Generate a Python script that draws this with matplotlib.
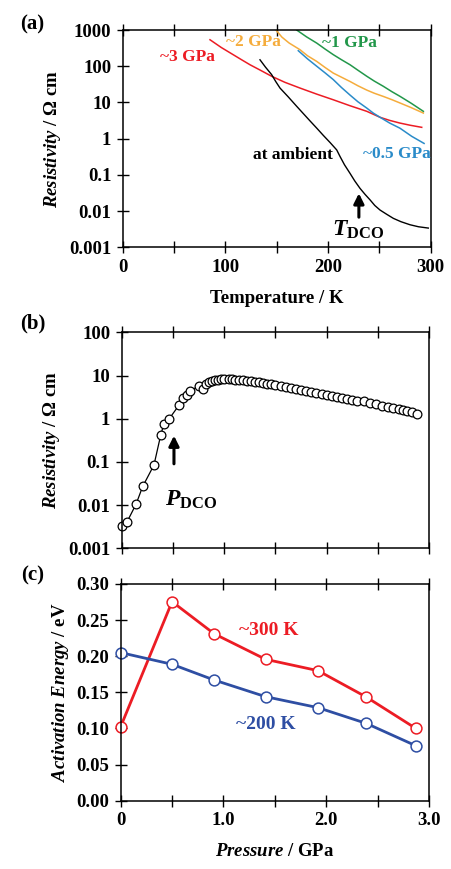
import matplotlib
matplotlib.use("Agg")
import matplotlib.pyplot as plt
from matplotlib.ticker import FixedLocator, FixedFormatter, NullFormatter, MultipleLocator

plt.rcParams['font.family'] = ['Liberation Serif', 'DejaVu Serif']
plt.rcParams['font.weight'] = 'bold'
plt.rcParams['axes.labelweight'] = 'bold'
plt.rcParams['mathtext.fontset'] = 'custom'
plt.rcParams['mathtext.rm'] = 'Liberation Serif:bold'
plt.rcParams['mathtext.it'] = 'Liberation Serif:italic:bold'
plt.rcParams['mathtext.bf'] = 'Liberation Serif:bold'

# ---------------- data: panel (a) ----------------
T_3gpa = [85, 96, 107.7, 116, 124, 134, 145, 158, 172.7, 189, 205, 221, 237.7, 250.6, 260, 270, 280, 291.2]
rho_3gpa = [540, 330, 208, 150, 110, 78, 53, 36, 25, 17, 11.9, 8.2, 5.7, 3.9, 3.2, 2.7, 2.35, 2.06]

T_2gpa = [149.3, 155, 162, 172.7, 180, 189, 197, 205, 213, 221.4, 229, 237.7, 245, 253.8, 262, 270, 281, 292.8]
rho_2gpa = [1000, 640, 440, 286, 195, 136, 93, 65, 50, 38, 29, 22, 18, 14.7, 12, 9.7, 7.2, 5.1]

T_1gpa = [169.5, 179, 189, 197, 205, 213, 221.4, 229, 237.7, 245, 253.8, 262, 270, 281, 292.8]
rho_1gpa = [1000, 650, 436, 300, 210, 152, 110, 78, 53, 39, 28, 20, 14.8, 9.5, 5.7]

T_05gpa = [171, 180, 189, 197, 205, 213, 221.4, 229, 237.7, 244, 250.6, 260, 270, 281.5, 293.5]
rho_05gpa = [269, 160, 100, 66, 43, 26, 16, 10.5, 7.0, 5.1, 3.9, 2.7, 1.95, 1.16, 0.74]

T_amb = [133.7, 139, 145, 149, 153.2, 161, 169.5, 176, 182.4, 189, 195.4, 202, 208.4, 211.7,
         216, 221.4, 226, 231.1, 236, 240.9, 245.5, 250.6, 257, 263.6, 271, 279.8, 288, 297.6]
rho_amb = [151, 95, 59, 38, 25, 14.5, 7.8, 4.9, 3.1, 1.95, 1.23, 0.78, 0.49, 0.32,
           0.19, 0.11, 0.068, 0.0425, 0.029, 0.0204, 0.0143, 0.0107, 0.0082, 0.0063, 0.0051, 0.0042, 0.0037, 0.0034]

# ---------------- data: panel (b) ----------------
P_b = [0.00, 0.05, 0.14, 0.205, 0.315, 0.38, 0.41, 0.46, 0.56, 0.60, 0.64, 0.67,
       0.75, 0.79, 0.82, 0.85, 0.88, 0.91, 0.94, 0.97, 1.00, 1.05, 1.08, 1.11,
       1.14, 1.18, 1.22, 1.26, 1.30, 1.34, 1.38, 1.42, 1.46, 1.50, 1.55, 1.60,
       1.65, 1.70, 1.75, 1.80, 1.85, 1.90, 1.95, 2.00, 2.05, 2.10, 2.15, 2.20,
       2.25, 2.30, 2.36, 2.42, 2.48, 2.54, 2.60, 2.65, 2.70, 2.74, 2.78, 2.83, 2.88]
rho_b = [0.0033, 0.0040, 0.0105, 0.027, 0.085, 0.41, 0.74, 0.97, 2.07, 2.95, 3.5, 4.4,
         5.7, 5.0, 6.3, 7.0, 7.5, 7.9, 8.0, 8.1, 8.1, 8.1, 8.1, 8.0,
         7.9, 7.7, 7.5, 7.3, 7.1, 6.9, 6.7, 6.4, 6.2, 6.0, 5.7, 5.4,
         5.1, 4.85, 4.6, 4.35, 4.15, 3.95, 3.7, 3.5, 3.3, 3.15, 3.0, 2.85,
         2.7, 2.55, 2.6, 2.3, 2.15, 2.0, 1.85, 1.75, 1.65, 1.57, 1.5, 1.4, 1.32]

# ---------------- data: panel (c) ----------------
P_c = [0.0, 0.5, 0.91, 1.41, 1.92, 2.39, 2.87]
Ea_300K = [0.1025, 0.2755, 0.231, 0.1957, 0.180, 0.1435, 0.1002]
Ea_200K = [0.205, 0.1888, 0.167, 0.144, 0.1288, 0.107, 0.0762]

RED = '#ec1c24'
ORANGE = '#f5ac3c'
GREEN = '#22974a'
LBLUE = '#2a8bc9'
NAVY = '#2e4ea3'

TFS = 13.5
fig = plt.figure(figsize=(4.52, 8.69), dpi=100)

def style(ax):
    for s in ax.spines.values():
        s.set_linewidth(1.1)
    ax.tick_params(axis='both', which='both', direction='inout', length=8.5, width=1.0,
                   labelsize=TFS, pad=4)
    ax.tick_params(axis='x', which='both', top=True)
    ax.tick_params(axis='y', which='both', right=False)

# ---- panel (a) ----
axa = fig.add_axes([0.2715, 0.7154, 0.6815, 0.2500])
axa.plot(T_3gpa, rho_3gpa, color=RED, lw=1.1)
axa.plot(T_2gpa, rho_2gpa, color=ORANGE, lw=1.1)
axa.plot(T_1gpa, rho_1gpa, color=GREEN, lw=1.1)
axa.plot(T_05gpa, rho_05gpa, color=LBLUE, lw=1.1)
axa.plot(T_amb, rho_amb, color='black', lw=1.0)
axa.set_yscale('log')
axa.set_xlim(0, 300)
axa.set_ylim(0.001, 1000)
axa.yaxis.set_major_locator(FixedLocator([0.001, 0.01, 0.1, 1, 10, 100, 1000]))
axa.yaxis.set_major_formatter(FixedFormatter(['0.001', '0.01', '0.1', '1', '10', '100', '1000']))
axa.yaxis.set_minor_locator(FixedLocator([]))
axa.xaxis.set_major_locator(MultipleLocator(100))
axa.xaxis.set_minor_locator(MultipleLocator(50))
style(axa)
axa.set_xlabel('Temperature / K', fontsize=TFS, fontweight='bold', labelpad=10)
axa.set_ylabel(r'$\mathit{Resistivity}$ / Ω cm', fontsize=TFS, fontweight='bold', labelpad=4)
axa.text(62.6, 180, '~3 GPa', color=RED, fontsize=12.5, ha='center', va='center')
axa.text(127, 475, '~2 GPa', color=ORANGE, fontsize=12.5, ha='center', va='center')
axa.text(220.7, 450, '~1 GPa', color=GREEN, fontsize=12.5, ha='center', va='center')
axa.text(266.9, 0.38, '~0.5 GPa', color=LBLUE, fontsize=12.5, ha='center', va='center')
axa.text(166, 0.35, 'at ambient', color='black', fontsize=12.5, ha='center', va='center')
axa.text(229.5, 0.003, r'$\mathit{T}_{\mathrm{DCO}}$', color='black', fontsize=17, ha='center', va='center')
axa.annotate('', xy=(230, 0.037), xytext=(230, 0.0057),
             arrowprops=dict(arrowstyle='-|>,head_width=0.3,head_length=0.6', color='black', lw=2.2))
fig.text(0.072, 0.972, '(a)', fontsize=15, fontweight='bold', ha='center', va='center')

# ---- panel (b) ----
axb = fig.add_axes([0.2692, 0.3690, 0.6805, 0.2486])
axb.plot(P_b, rho_b, color='black', lw=0.9, marker='o', ms=6.3, mfc='white',
         mec='black', mew=0.9, clip_on=False)
axb.set_yscale('log')
axb.set_xlim(0, 3.0)
axb.set_ylim(0.001, 100)
axb.yaxis.set_major_locator(FixedLocator([0.001, 0.01, 0.1, 1, 10, 100]))
axb.yaxis.set_major_formatter(FixedFormatter(['0.001', '0.01', '0.1', '1', '10', '100']))
axb.yaxis.set_minor_locator(FixedLocator([]))
axb.xaxis.set_major_locator(MultipleLocator(1.0))
axb.xaxis.set_minor_locator(MultipleLocator(0.5))
axb.xaxis.set_major_formatter(NullFormatter())
style(axb)
axb.set_ylabel(r'$\mathit{Resistivity}$ / Ω cm', fontsize=TFS, fontweight='bold', labelpad=4)
axb.annotate('', xy=(0.51, 0.47), xytext=(0.51, 0.078),
             arrowprops=dict(arrowstyle='-|>,head_width=0.3,head_length=0.6', color='black', lw=2.2))
axb.text(0.68, 0.013, r'$\mathit{P}_{\mathrm{DCO}}$', color='black', fontsize=17, ha='center', va='center')
fig.text(0.072, 0.628, '(b)', fontsize=15, fontweight='bold', ha='center', va='center')

# ---- panel (c) ----
axc = fig.add_axes([0.2670, 0.0786, 0.6821, 0.2494])
axc.plot(P_c, Ea_300K, color=RED, lw=2.0, marker='o', ms=7.8, mfc='white', mec=RED,
         mew=1.1, clip_on=False)
axc.plot(P_c, Ea_200K, color=NAVY, lw=2.0, marker='o', ms=7.8, mfc='white', mec=NAVY,
         mew=1.1, clip_on=False)
axc.set_xlim(0, 3.0)
axc.set_ylim(0, 0.30)
axc.xaxis.set_major_locator(FixedLocator([0, 1, 2, 3]))
axc.xaxis.set_major_formatter(FixedFormatter(['0', '1.0', '2.0', '3.0']))
axc.xaxis.set_minor_locator(MultipleLocator(0.5))
axc.yaxis.set_major_locator(FixedLocator([0.0, 0.05, 0.10, 0.15, 0.20, 0.25, 0.30]))
axc.yaxis.set_major_formatter(FixedFormatter(['0.00', '0.05', '0.10', '0.15', '0.20', '0.25', '0.30']))
style(axc)
axc.set_xlabel(r'$\mathit{Pressure}$ / GPa', fontsize=TFS, fontweight='bold', labelpad=10)
axc.set_ylabel(r'$\mathit{Activation\ Energy}$ / eV', fontsize=TFS, fontweight='bold', labelpad=4)
axc.text(1.436, 0.236, '~300 K', color=RED, fontsize=14, ha='center', va='center')
axc.text(1.414, 0.1058, '~200 K', color=NAVY, fontsize=14, ha='center', va='center')
fig.text(0.072, 0.338, '(c)', fontsize=15, fontweight='bold', ha='center', va='center')

fig.savefig('out.png', dpi=100)
